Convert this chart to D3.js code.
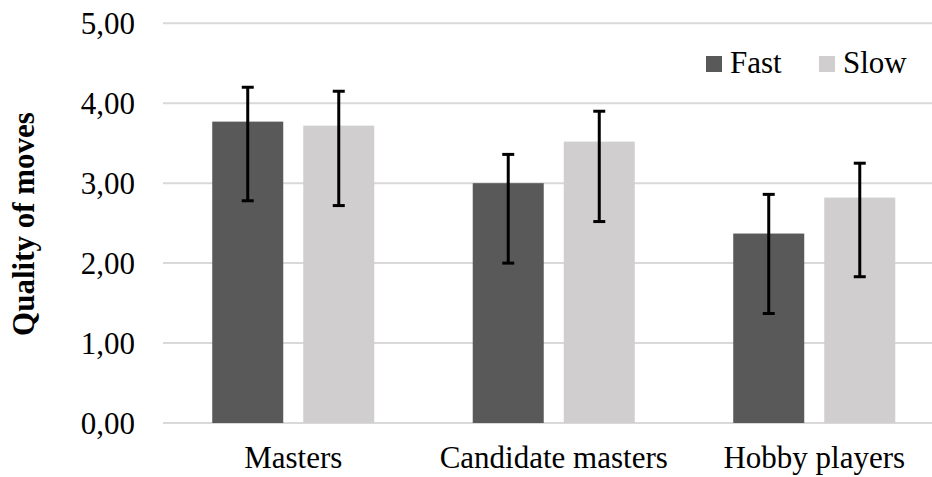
<!DOCTYPE html>
<html>
<head>
<meta charset="utf-8">
<script src="https://cdn.jsdelivr.net/npm/d3@7"></script>
</head>
<body style="margin:0;background:#fff">
<svg id="chart" width="932" height="477" style="display:block"></svg>
<script>
const categories = ["Masters", "Candidate masters", "Hobby players"];
const seriesNames = ["Fast", "Slow"];
const fastValues = [3.77, 3.00, 2.37];
const slowValues = [3.72, 3.52, 2.82];
const fastUpper = [4.20, 3.36, 2.86];
const fastLower = [2.78, 2.00, 1.37];
const slowUpper = [4.15, 3.90, 3.25];
const slowLower = [2.72, 2.52, 1.83];
const yTicks = [0, 1, 2, 3, 4, 5];
const yTitle = "Quality of moves";
const colors = ["#595959", "#d0cece"];
const FONT = '"Liberation Serif"';

const svg = d3.select("#chart");
const plotLeft = 163, plotRight = 944.5, plotTop = 23.3, plotBottom = 423;

const y = d3.scaleLinear().domain([0, 5]).range([plotBottom, plotTop]);
const x0 = d3.scaleBand().domain(categories).range([plotLeft, plotRight]).paddingInner(0.378).paddingOuter(0.189);
const x1 = d3.scaleBand().domain(seriesNames).range([0, x0.bandwidth()]).paddingInner(0.22);

// gridlines
svg.append("g").selectAll("line").data(yTicks).join("line")
  .attr("x1", plotLeft).attr("x2", 932)
  .attr("y1", d => y(d)).attr("y2", d => y(d))
  .attr("stroke", "#d9d9d9").attr("stroke-width", 2);

// y tick labels
svg.append("g").selectAll("text").data(yTicks).join("text")
  .attr("x", 135).attr("y", d => y(d) + 10.5)
  .attr("text-anchor", "end")
  .style("font-family", FONT).style("font-size", "31px").style("fill", "#000")
  .text(d => d.toFixed(2).replace(".", ","));

// y axis title
svg.append("text")
  .attr("transform", `translate(34, 224) rotate(-90)`)
  .attr("text-anchor", "middle")
  .style("font-family", FONT).style("font-size", "31px").style("font-weight", "bold").style("fill", "#000")
  .text(yTitle);

const rows = [];
categories.forEach((c, i) => {
  rows.push({ cat: c, s: "Fast", v: fastValues[i], hi: fastUpper[i], lo: fastLower[i], color: colors[0] });
  rows.push({ cat: c, s: "Slow", v: slowValues[i], hi: slowUpper[i], lo: slowLower[i], color: colors[1] });
});

// bars
svg.append("g").selectAll("rect").data(rows).join("rect")
  .attr("x", d => x0(d.cat) + x1(d.s))
  .attr("width", x1.bandwidth())
  .attr("y", d => y(d.v))
  .attr("height", d => y(0) - y(d.v))
  .attr("fill", d => d.color);

// error bars
const eg = svg.append("g").attr("stroke", "#000").attr("stroke-width", 3);
const cx = d => x0(d.cat) + x1(d.s) + x1.bandwidth() / 2;
eg.selectAll("line.v").data(rows).join("line").attr("class", "v")
  .attr("x1", cx).attr("x2", cx)
  .attr("y1", d => y(d.hi)).attr("y2", d => y(d.lo));
eg.selectAll("line.t").data(rows).join("line").attr("class", "t")
  .attr("x1", d => cx(d) - 6).attr("x2", d => cx(d) + 6)
  .attr("y1", d => y(d.hi)).attr("y2", d => y(d.hi));
eg.selectAll("line.b").data(rows).join("line").attr("class", "b")
  .attr("x1", d => cx(d) - 6).attr("x2", d => cx(d) + 6)
  .attr("y1", d => y(d.lo)).attr("y2", d => y(d.lo));

// x labels
svg.append("g").selectAll("text").data(categories).join("text")
  .attr("x", d => x0(d) + x0.bandwidth() / 2)
  .attr("y", 468)
  .attr("text-anchor", "middle")
  .style("font-family", FONT).style("font-size", "31px").style("fill", "#000")
  .text(d => d);

// legend
const legendX = [706, 819];
const lg = svg.append("g").selectAll("g").data(seriesNames).join("g")
  .attr("transform", (d, i) => `translate(${legendX[i]}, 56)`);
lg.append("rect").attr("width", 16).attr("height", 16).attr("fill", (d, i) => colors[i]);
lg.append("text").attr("x", 24).attr("y", 17)
  .style("font-family", FONT).style("font-size", "31px").style("fill", "#000")
  .text(d => d);
</script>
</body>
</html>
